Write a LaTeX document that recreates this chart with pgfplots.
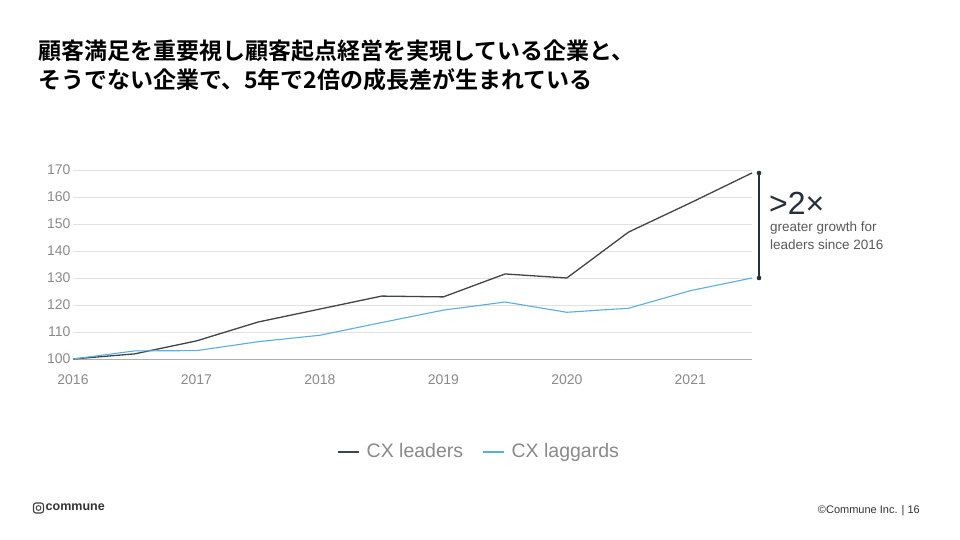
\documentclass[border=0pt]{standalone}
\usepackage{pgfplots}
\pgfplotsset{compat=1.18}
\usepackage{fontspec}
\setmainfont{Liberation Sans}
\newfontfamily\jp{Noto Sans CJK JP}[BoldFont={* Bold}]

\definecolor{leader}{HTML}{3F454C}
\definecolor{laggard}{HTML}{5AAEE3}
\definecolor{tickgray}{HTML}{8A8A8A}
\definecolor{gridgray}{HTML}{E2E2E2}
\definecolor{navy}{HTML}{26303B}

% CX leaders / laggards index, 2016 = 100, half-year steps
\pgfplotstableread{
x       leaders laggards
2016.0  100.0   100.0
2016.5  101.9   103.0
2017.0  106.7   103.1
2017.5  113.7   106.4
2018.0  118.5   108.8
2018.5  123.3   113.5
2019.0  123.0   118.1
2019.5  131.5   121.1
2020.0  130.0   117.3
2020.5  147.0   118.8
2021.0  157.8   125.3
2021.5  168.9   130.0
}\cxdata

\begin{document}
\begin{tikzpicture}
\path[fill=white] (0,0) rectangle (960pt,540pt);

% title
\node[anchor=west, inner sep=0pt, font=\jp\bfseries\fontsize{23}{26}\selectfont]
  at (38pt,489pt) {顧客満足を重要視し顧客起点経営を実現している企業と、};
\node[anchor=west, inner sep=0pt, font=\jp\bfseries\fontsize{23}{26}\selectfont]
  at (38pt,460pt) {そうでない企業で、5年で2倍の成長差が生まれている};

\begin{axis}[
  at={(73pt,181pt)}, anchor=south west,
  scale only axis, width=679pt, height=189pt,
  xmin=2016, xmax=2021.5, ymin=100, ymax=170,
  axis line style={draw=none},
  major tick length=0pt,
  ytick={100,110,...,170},
  xtick={2016,2017,2018,2019,2020,2021},
  xticklabels={2016,2017,2018,2019,2020,2021},
  ymajorgrids, grid style={gridgray, line width=0.8pt},
  /pgf/number format/assume math mode=true,
  ticklabel style={font=\fontsize{14}{16}\selectfont, text=tickgray},
  yticklabel style={xshift=1pt},
  xticklabel style={yshift=-12pt},
  clip=false,
  legend style={at={(0.598,-0.49)}, anchor=center, draw=none, fill=none,
    legend columns=2, font=\fontsize{19.5}{22}\selectfont, text=tickgray,
    /tikz/every even column/.append style={column sep=17pt}},
  legend image code/.code={\draw[#1, line width=1.8pt] (0pt,0pt) -- (21pt,0pt);
    \path (26pt,0pt);},
]
\draw[color=tickgray!70, line width=0.9pt] (axis cs:2016,100) -- (axis cs:2021.5,100);
\addplot[leader, line width=1.3pt] table[x=x, y=leaders] {\cxdata};
\addlegendentry{CX leaders}
\addplot[laggard, line width=1.1pt] table[x=x, y=laggards] {\cxdata};
\addlegendentry{CX laggards}
\end{axis}

% >2x annotation
\draw[navy, line width=1.3pt] (759pt,367pt) -- (759pt,262pt);
\fill[navy] (759pt,367pt) circle (2.3pt);
\fill[navy] (759pt,262pt) circle (2.3pt);
\node[anchor=base west, inner sep=0pt, text=navy, font=\fontsize{32}{34}\selectfont]
  at (769pt,325pt) {>2×};
\node[anchor=west, inner sep=0pt, text=black!65, font=\fontsize{13.5}{16}\selectfont]
  at (770pt,312pt) {greater growth for};
\node[anchor=west, inner sep=0pt, text=black!65, font=\fontsize{13.5}{16}\selectfont]
  at (770pt,295pt) {leaders since 2016};

% footer
\draw[black!75, line width=1.1pt, rounded corners=2.5pt] (33.5pt,27pt) rectangle (43.5pt,37pt);
\draw[black!75, line width=0.9pt] (38.5pt,32pt) circle (2.4pt);
\node[anchor=west, inner sep=0pt, text=black!80, font=\bfseries\fontsize{12.5}{14}\selectfont]
  at (45.5pt,32.5pt) {commune};
\node[anchor=east, inner sep=0pt, text=black!80, font=\fontsize{11}{13}\selectfont]
  at (920pt,29pt) {©Commune Inc. | 16};
\end{tikzpicture}
\end{document}
